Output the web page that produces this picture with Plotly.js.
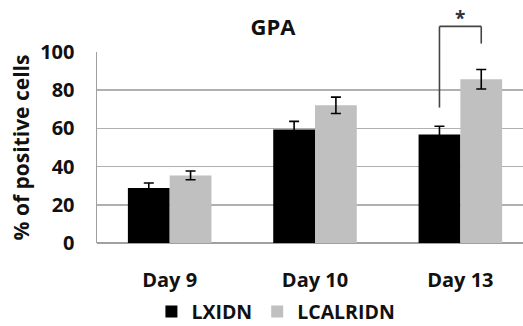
<!DOCTYPE html>
<html>
<head>
<meta charset="utf-8">
<script src="https://cdn.plot.ly/plotly-3.0.1.min.js"></script>
<style>html,body{margin:0;padding:0;background:#fff;}#chart{width:523px;height:326px;}</style>
</head>
<body>
<div id="chart"></div>
<script>
const categories = ['Day 9', 'Day 10', 'Day 13'];
const seriesNames = ['LXIDN', 'LCALRIDN'];
const lxidnValues = [28.8, 59.4, 56.8];
const lxidnErrors = [2.6, 4.3, 4.3];
const lcalridnValues = [35.4, 72.1, 85.7];
const lcalridnErrors = [2.3, 4.3, 5.1];
const yTickValues = [0, 20, 40, 60, 80, 100];
const sigLabel = '*';

const FONT = '"Open Sans", "DejaVu Sans", sans-serif';
const bargap = 0.425;
const groupWidth = 1 - bargap;
const barW = groupWidth / 2;

const traces = [
  {
    type: 'bar', name: seriesNames[0], x: categories, y: lxidnValues,
    marker: {color: '#000000'},
    error_y: {type: 'data', array: lxidnErrors, visible: true, color: '#000000', thickness: 1.6, width: 5}
  },
  {
    type: 'bar', name: seriesNames[1], x: categories, y: lcalridnValues,
    marker: {color: '#c0c0c0'},
    error_y: {type: 'data', array: lcalridnErrors, visible: true, color: '#000000', thickness: 1.6, width: 5}
  }
];

const gi = 2;
const xl = gi - barW / 2;
const xr = gi + barW / 2;
const bracketColor = '#444444';
const shapes = [
  {type: 'line', xref: 'x', yref: 'paper', x0: xl, x1: xl, y0: 0.709, y1: 1.134, line: {color: bracketColor, width: 1.6}},
  {type: 'line', xref: 'x', yref: 'paper', x0: xl, x1: xr, y0: 1.134, y1: 1.134, line: {color: bracketColor, width: 1.6}},
  {type: 'line', xref: 'x', yref: 'paper', x0: xr, x1: xr, y0: 1.134, y1: 1.044, line: {color: bracketColor, width: 1.6}}
];

const layout = {
  width: 523, height: 326,
  margin: {l: 97, r: 0, t: 52, b: 83, autoexpand: false},
  paper_bgcolor: '#ffffff', plot_bgcolor: '#ffffff',
  font: {family: FONT, color: '#111111', size: 18, weight: 'bold'},
  title: {text: 'GPA', font: {family: FONT, size: 22, weight: 'bold', color: '#111111'},
          x: 0.413, xref: 'paper', xanchor: 'center', y: 0.917, yref: 'container', yanchor: 'middle'},
  barmode: 'group', bargap: bargap, bargroupgap: 0,
  showlegend: true,
  legend: {orientation: 'h', x: 0.42, xanchor: 'center', y: -0.36, yanchor: 'middle',
           font: {family: FONT, size: 19.5, weight: 'bold', color: '#111111'}, itemwidth: 30, traceorder: 'normal'},
  xaxis: {
    type: 'category', range: [-0.5, 2.431], showgrid: false, zeroline: false, showline: false,
    ticks: '', ticklabelstandoff: 23, automargin: false,
    tickfont: {family: FONT, size: 20, weight: 'bold', color: '#111111'}, fixedrange: true
  },
  yaxis: {
    range: [0, 100], tickvals: yTickValues, ticktext: yTickValues.map(String),
    showgrid: true, gridcolor: '#b0b0b0', gridwidth: 1.5,
    zeroline: true, zerolinecolor: '#a0a0a0', zerolinewidth: 1.5,
    showline: true, linecolor: '#a0a0a0', linewidth: 1.5,
    ticks: '', ticklabelstandoff: 17, automargin: false,
    tickfont: {family: FONT, size: 20, weight: 'bold', color: '#111111'},
    title: {text: '% of positive cells', font: {family: FONT, size: 21, weight: 'bold', color: '#111111'}, standoff: 5},
    fixedrange: true
  },
  shapes: shapes,
  annotations: [
    {text: sigLabel, xref: 'x', yref: 'paper', x: gi, y: 1.18, showarrow: false,
     font: {family: FONT, size: 19, weight: 'bold', color: '#333333'}, xanchor: 'center', yanchor: 'middle'}
  ]
};

Plotly.newPlot('chart', traces, layout, {displayModeBar: false, staticPlot: true});
</script>
</body>
</html>
